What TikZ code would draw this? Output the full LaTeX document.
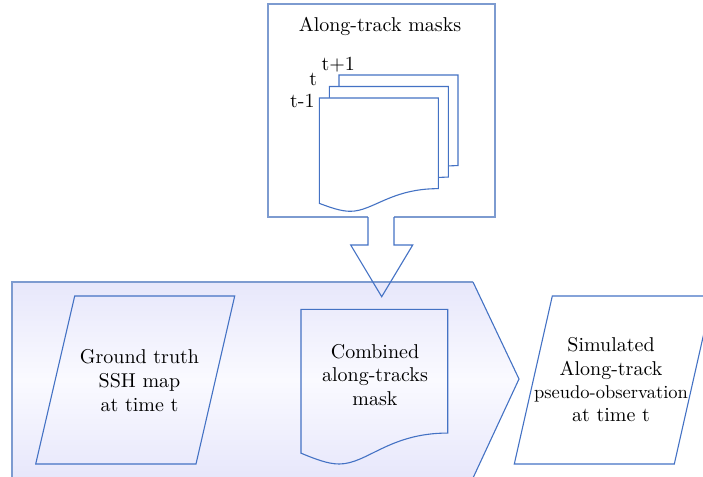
\documentclass[tikz,border=0pt]{standalone}
\usepackage{tikz}
\usepackage{fontspec}
\setmainfont{lmroman10-regular.otf}

\definecolor{edge}{RGB}{68,114,196}
\definecolor{frame}{RGB}{125,155,208}
\definecolor{lav}{RGB}{231,231,251}
\definecolor{lavmid}{RGB}{250,250,255}

\tikzset{
  shape line/.style={draw=edge, line width=1.1pt, line join=miter},
  frame line/.style={draw=frame, line width=1.8pt},
  big text/.style={font=\fontsize{20}{24}\selectfont, inner sep=0pt, align=center},
}

% Document sheet with a wavy lower edge: #1 options, (#2,#3) top-left, #4 width, #5 height
\newcommand\docsheet[5]{%
  \draw[#1] (#2,#3) -- ({#2+#4},#3) -- ({#2+#4},{#3+0.80*#5})
    .. controls ({#2+0.60*#4},{#3+0.80*#5}) and ({#2+0.45*#4},{#3+#5}) .. ({#2+0.26*#4},{#3+#5})
    .. controls ({#2+0.18*#4},{#3+#5}) and ({#2+0.09*#4},{#3+0.965*#5}) .. (#2,{#3+0.93*#5})
    -- cycle;}

\begin{document}
\begin{tikzpicture}[x=1pt,y=-1pt]
  \useasboundingbox (0,0) rectangle (703,476);
  \clip (0,0) rectangle (703,476);

  % process block (home-plate shape)
  \shade[top color=lav, bottom color=lav, middle color=lavmid]
    (12,282) -- (473,282) -- (519,379) -- (473,478) -- (12,478) -- cycle;
  \draw[frame line] (473,282) -- (12,282) -- (12,478);
  \draw[shape line] (473,282) -- (519,379) -- (473,478);

  % along-track masks frame, open at the bottom for the arrow
  \draw[frame line] (368,217) -- (268,217) -- (268,4) -- (495,4) -- (495,217) -- (394,217);
  \node[big text, anchor=base] (masktitle) at (380,31.5) {Along-track masks};

  % stack of daily masks
  \docsheet{shape line, fill=white}{339}{75}{119}{113.3}
  \docsheet{shape line, fill=white}{329.3}{86.5}{119}{113.3}
  \docsheet{shape line, fill=white}{319.3}{98}{119}{113.3}
  \node[big text, anchor=base] (lblnext) at (338.3,71) {t+1};
  \node[big text, anchor=base] (lblnow) at (313.3,86) {t};
  \node[big text, anchor=base] (lblprev) at (302.3,107.3) {t-1};

  % block arrow into the process
  \draw[shape line] (368,217) -- (368,245) -- (350.7,245) -- (381.7,296.7)
    -- (412.7,245) -- (394,245) -- (394,217);

  % ground truth input
  \draw[shape line] (74.7,296) -- (234.7,296) -- (196,464) -- (35.7,464) -- cycle;
  \node[big text] (truth) at (139.5,380.2) {Ground truth\\SSH map\\at time t};

  % combined mask
  \docsheet{shape line}{301}{309.3}{146.7}{154.7}
  \node[big text, font=\fontsize{20}{23.5}\selectfont] (combined) at (375,374.7)
    {Combined\\along-tracks\\mask};

  % simulated output
  \draw[shape line] (552.3,296) -- (712.3,296) -- (674.3,464) -- (514.3,464) -- cycle;
  \node[big text, font=\fontsize{20}{23.3}\selectfont] (simulated) at (611,380)
    {Simulated\\Along-track\\{\fontsize{18.5}{23.3}\selectfont pseudo-observation}\\at time t};
\end{tikzpicture}
\end{document}
